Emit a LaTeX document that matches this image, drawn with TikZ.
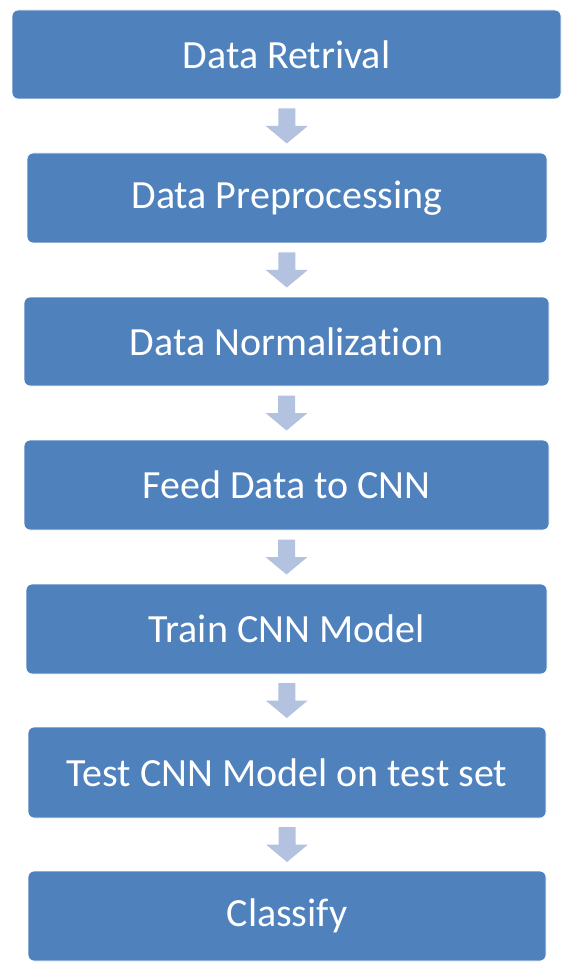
\documentclass[tikz,border=0pt]{standalone}
\usepackage{fontspec}
\setmainfont{Carlito}[Ligatures=CommonOff]
\usetikzlibrary{calc}
\definecolor{boxblue}{HTML}{4F81BD}
\definecolor{arrowblue}{HTML}{B3C2DE}
\tikzset{
  stepbox/.style={draw=white, line width=0.8pt, fill=boxblue, rounded corners=6pt,
    text=white, font=\fontsize{40}{46}\selectfont, inner sep=0pt},
  arrowfill/.style={fill=arrowblue}
}
% block arrow in the gap between two boxes
\newcommand\flowarrow[2]{%
  \path ($(#1.south)!0.5!(#2.north)$) coordinate (m-#1);
  \fill[arrowfill, shift={(m-#1)}]
    (-8.5,17.5) -- (8.5,17.5) -- (8.5,0) -- (21,0) -- (0,-17.5) -- (-21,0) -- (-8.5,0) -- cycle;}
\begin{document}
\begin{tikzpicture}[x=1pt,y=1pt]
  \useasboundingbox (0,0) rectangle (563,-965);
  \node[stepbox, minimum width=549, minimum height=89] (s1) at (286.5,-54.5) {Data Retrival};
  \node[stepbox, minimum width=520, minimum height=90] (s2) at (287,-198) {Data Preprocessing};
  \node[stepbox, minimum width=525, minimum height=89] (s3) at (286.5,-341.5) {Data Normalization};
  \node[stepbox, minimum width=525, minimum height=90] (s4) at (286.5,-485) {Feed Data to CNN};
  \node[stepbox, minimum width=521, minimum height=90] (s5) at (286.5,-629) {Train CNN Model};
  \node[stepbox, minimum width=518, minimum height=91] (s6) at (287,-772.5) {Test CNN Model on test set};
  \node[stepbox, minimum width=518, minimum height=90] (s7) at (287,-916) {Classify};
  \flowarrow{s1}{s2}
  \flowarrow{s2}{s3}
  \flowarrow{s3}{s4}
  \flowarrow{s4}{s5}
  \flowarrow{s5}{s6}
  \flowarrow{s6}{s7}
\end{tikzpicture}
\end{document}
